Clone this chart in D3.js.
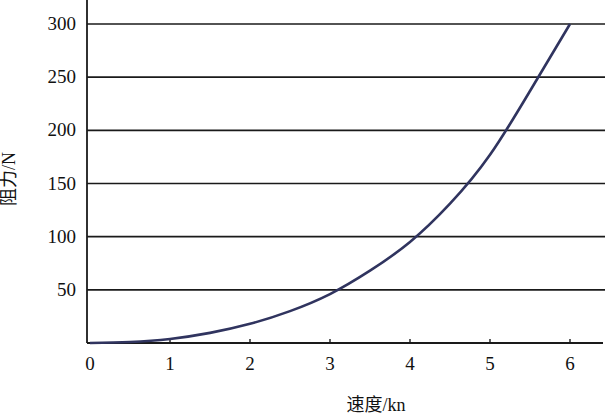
<!DOCTYPE html>
<html>
<head>
<meta charset="utf-8">
<script src="https://cdn.jsdelivr.net/npm/d3@7"></script>
<style>
  body { margin: 0; background: #fff; }
  text { fill: #111; }
</style>
</head>
<body>
<div id="chart"></div>
<script>
// The data
var speed = [0, 0.5, 1, 1.5, 2, 2.5, 3, 3.5, 4, 4.5, 5, 5.5, 6];
var resistance = [0, 1, 3.8, 9.5, 18, 30, 46, 68, 95, 131, 177, 237, 300];
var xTicks = [0, 1, 2, 3, 4, 5, 6];
var yTicks = [50, 100, 150, 200, 250, 300];
var xTitle = '速度/kn';
var yTitle = '阻力/N';

var width = 605, height = 416;
var axisX = 87, baseY = 343;
var serif = "'Times New Roman', 'Liberation Serif', 'DejaVu Serif', serif";
var cjk = "'Times New Roman', 'Liberation Serif', 'Noto Sans CJK SC', serif";

var x = d3.scaleLinear().domain([0, 6]).range([90, 570]);
var y = d3.scaleLinear().domain([0, 300]).range([baseY, 24]);

var svg = d3.select('#chart').append('svg')
    .attr('width', width)
    .attr('height', height);

// horizontal grid lines
svg.selectAll('line.grid')
    .data(yTicks)
    .enter()
  .append('line')
    .attr('class', 'grid')
    .attr('x1', axisX)
    .attr('x2', width)
    .attr('y1', function(d) { return y(d); })
    .attr('y2', function(d) { return y(d); })
    .style('stroke', '#1a1a1a')
    .style('stroke-width', 1.6);

// y tick labels
svg.selectAll('text.ylab')
    .data(yTicks)
    .enter()
  .append('text')
    .attr('class', 'ylab')
    .attr('x', 76)
    .attr('y', function(d) { return y(d) + 6; })
    .attr('text-anchor', 'end')
    .attr('font-family', serif)
    .attr('font-size', 19)
    .text(function(d) { return d; });

// axes lines
svg.append('line')
    .attr('x1', axisX).attr('x2', axisX)
    .attr('y1', 0).attr('y2', baseY)
    .style('stroke', '#1a1a1a').style('stroke-width', 1.8);
svg.append('line')
    .attr('x1', axisX).attr('x2', 603)
    .attr('y1', baseY).attr('y2', baseY)
    .style('stroke', '#1a1a1a').style('stroke-width', 1.8);

// x ticks (inward) and labels
svg.selectAll('line.xtick')
    .data(xTicks.slice(1))
    .enter()
  .append('line')
    .attr('class', 'xtick')
    .attr('x1', function(d) { return x(d); })
    .attr('x2', function(d) { return x(d); })
    .attr('y1', baseY - 4)
    .attr('y2', baseY)
    .style('stroke', '#1a1a1a')
    .style('stroke-width', 1.4);

svg.selectAll('text.xlab')
    .data(xTicks)
    .enter()
  .append('text')
    .attr('class', 'xlab')
    .attr('x', function(d) { return x(d); })
    .attr('y', 370)
    .attr('text-anchor', 'middle')
    .attr('font-family', serif)
    .attr('font-size', 19)
    .text(function(d) { return d; });

// the curve
var line = d3.line()
    .x(function(d, i) { return x(speed[i]); })
    .y(function(d) { return y(d); })
    .curve(d3.curveNatural);

svg.append('path')
    .datum(resistance)
    .attr('d', line)
    .style('fill', 'none')
    .style('stroke', '#30345f')
    .style('stroke-width', 2.6);

// axis titles
svg.append('text')
    .attr('x', 376)
    .attr('y', 411)
    .attr('text-anchor', 'middle')
    .attr('font-family', cjk)
    .attr('font-size', 18)
    .text(xTitle);

svg.append('text')
    .attr('transform', 'translate(15,179) rotate(-90)')
    .attr('text-anchor', 'middle')
    .attr('font-family', cjk)
    .attr('font-size', 18)
    .text(yTitle);
</script>
</body>
</html>
